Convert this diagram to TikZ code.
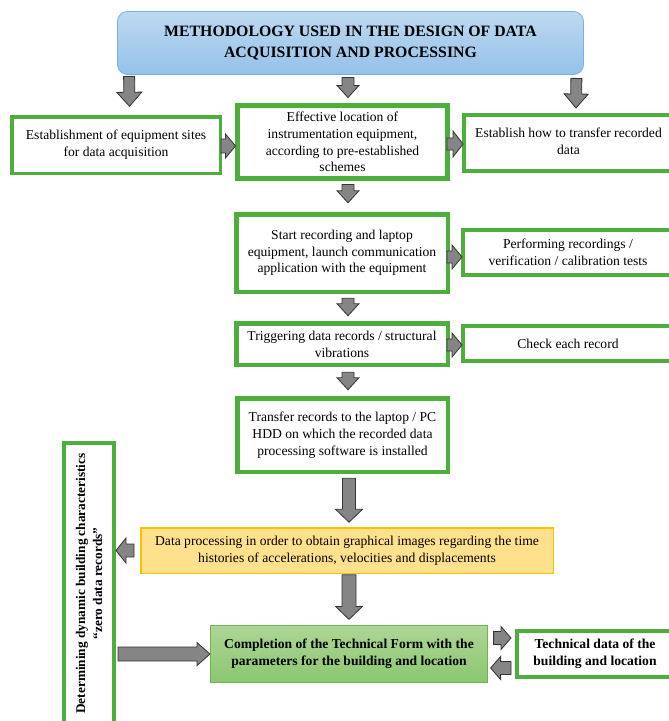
\documentclass[tikz,border=0pt]{standalone}
\usepackage{fontspec}
\setmainfont{Liberation Serif}
\usetikzlibrary{calc}

\definecolor{boxgreen}{RGB}{76,175,60}
\definecolor{titletop}{RGB}{190,217,241}
\definecolor{titlebot}{RGB}{148,193,233}
\definecolor{titleline}{RGB}{125,175,222}
\definecolor{procfill}{RGB}{255,224,140}
\definecolor{procline}{RGB}{255,192,0}
\definecolor{formtop}{RGB}{172,214,150}
\definecolor{formbot}{RGB}{140,199,112}
\definecolor{formline}{RGB}{112,180,80}

% block arrow: shaft half-width, head half-width, head length, from, to
\newcommand{\fatarrow}[5]{%
  \coordinate (fa-s) at #4;
  \coordinate (fa-e) at #5;
  \coordinate (fa-n) at ($(fa-e)!#3!(fa-s)$);
  \draw[fat] ($(fa-s)!#1!90:(fa-e)$) -- ($(fa-n)!#1!90:(fa-e)$)
    -- ($(fa-n)!#2!90:(fa-e)$) -- (fa-e) -- ($(fa-n)!#2!-90:(fa-e)$)
    -- ($(fa-n)!#1!-90:(fa-e)$) -- ($(fa-s)!#1!-90:(fa-e)$) -- cycle;
}

\begin{document}
\begin{tikzpicture}[x=1pt, y=1pt,
    box/.style={draw=boxgreen, line width=4pt, fill=white, align=center,
      inner sep=0pt, font=\fontsize{13.6}{16.7}\selectfont},
    fat/.style={draw=black!80, fill=black!48, line width=0.8pt, line join=miter}]

    \useasboundingbox (0,0) rectangle (669,-721);
    \clip (0,0) rectangle (669,-721);

    % === Title ===
    \node[draw=titleline, line width=0.8pt, rounded corners=10pt,
      top color=titletop, bottom color=titlebot, align=center,
      minimum width=466pt, minimum height=63pt,
      font=\bfseries\fontsize{15.8}{21}\selectfont] (title) at (350.5,-43)
      {METHODOLOGY USED IN THE DESIGN OF DATA\\ACQUISITION AND PROCESSING};

    % === First row ===
    \node[box, line width=3.5pt, minimum width=208.5pt, minimum height=56.5pt] (sites) at (116,-145)
      {Establishment of equipment sites\\for data acquisition};
    \node[box, line width=5pt, minimum width=210pt, minimum height=73pt] (location) at (342.5,-142)
      {Effective location of\\instrumentation equipment,\\according to pre-established\\schemes};
    \node[box, minimum width=209pt, minimum height=56pt] (transfer) at (568.5,-143)
      {\raisebox{4pt}{\begin{tabular}{@{}c@{}}Establish how to transfer recorded\\data\end{tabular}}};

    % === Main column ===
    \node[box, line width=4.5pt, minimum width=211.5pt, minimum height=77.5pt] (start) at (342,-253)
      {Start recording and laptop\\equipment, launch communication\\application with the equipment};
    \node[box, minimum width=210pt, minimum height=45pt] (tests) at (568,-252.5)
      {Performing recordings /\\verification / calibration tests};
    \node[box, line width=4.5pt, minimum width=211.5pt, minimum height=41.5pt] (trigger) at (342,-344)
      {Triggering data records / structural\\vibrations};
    \node[box, minimum width=210pt, minimum height=35pt] (check) at (568,-343.5)
      {Check each record};
    \node[box, line width=4.5pt, minimum width=210.5pt, minimum height=73.5pt] (hdd) at (342.5,-435)
      {\raisebox{4pt}{\begin{tabular}{@{}c@{}}Transfer records to the laptop / PC\\HDD on which the recorded data\\processing software is installed\end{tabular}}};

    % === Processing ===
    \node[box, draw=procline, fill=procfill, line width=1.5pt,
      minimum width=412.5pt, minimum height=45.5pt] (proc) at (347,-550.5)
      {Data processing in order to obtain graphical images regarding the time\\histories of accelerations, velocities and displacements};

    % === Technical form ===
    \node[box, draw=formline, top color=formtop, bottom color=formbot, line width=1.2pt,
      minimum width=276.8pt, minimum height=56.8pt, font=\bfseries\fontsize{13.6}{16.7}\selectfont] (form) at (349,-654)
      {Completion of the Technical Form with the\\parameters for the building and location};
    \node[box, minimum width=156pt, minimum height=46pt,
      font=\bfseries\fontsize{13.6}{16.7}\selectfont] (techdata) at (595,-654)
      {Technical data of the\\building and location};

    % === Dynamic characteristics (rotated) ===
    \node[box, rotate=90, minimum width=281pt, minimum height=50pt,
      font=\bfseries\fontsize{13.3}{17}\selectfont] (dynamic) at (89,-583.5)
      {Determining dynamic building characteristics\\“zero data records”};

    % === Block arrows ===
    \fatarrow{5.5pt}{12.5pt}{14pt}{($(title.south west)+(12,-1.5)$)}{($(sites.north)+(13.5,8.75)$)}
    \fatarrow{6pt}{11pt}{12pt}{($(title.south)+(-2.5,-2.5)$)}{($(location.north)+(5.5,5.5)$)}
    \fatarrow{5.5pt}{12pt}{14pt}{($(title.south east)+(-7.5,-3.5)$)}{($(transfer.north)+(7.5,5)$)}

    \fatarrow{7pt}{12pt}{10pt}{($(sites.east)+(-1,-1)$)}{($(location.west)+(0.5,-4)$)}
    \fatarrow{6pt}{13pt}{10pt}{($(location.east)+(-3,-2)$)}{($(transfer.west)+(1,-1)$)}

    \fatarrow{6pt}{11pt}{12pt}{($(location.south)+(5.5,-3.5)$)}{($(start.north)+(6,9.25)$)}
    \fatarrow{6pt}{12pt}{10pt}{($(start.east)+(-3,-4)$)}{($(tests.west)+(1,-4.5)$)}
    \fatarrow{6pt}{11pt}{12pt}{($(start.south)+(6,-4.25)$)}{($(trigger.north)+(6,5.25)$)}
    \fatarrow{6pt}{12pt}{10pt}{($(trigger.east)+(-3,-1)$)}{($(check.west)+(1,-1.5)$)}
    \fatarrow{6pt}{11pt}{12pt}{($(trigger.south)+(6,-5.25)$)}{($(hdd.north)+(5.5,6.25)$)}

    \fatarrow{6.5pt}{13.5pt}{13pt}{($(hdd.south)+(6.5,-4.25)$)}{($(proc.north)+(2,4.75)$)}
    \fatarrow{6.5pt}{12.5pt}{10pt}{($(proc.west)+(-6,0)$)}{(proc.west -| dynamic.south)}
    \fatarrow{7pt}{13.5pt}{13pt}{($(proc.south)+(2,-0.75)$)}{($(form.north)+(0,5.6)$)}

    \fatarrow{7pt}{11.5pt}{13pt}{($(form.west -| dynamic.south)+(2,0)$)}{(form.west)}
    \fatarrow{6.5pt}{11.5pt}{10pt}{($(form.east)+(5.6,16)$)}{($(techdata.west)+(-4,16)$)}
    \fatarrow{6.5pt}{11.5pt}{10pt}{($(techdata.west)+(-4,-14)$)}{($(form.east)+(2.6,-14)$)}

\end{tikzpicture}
\end{document}
